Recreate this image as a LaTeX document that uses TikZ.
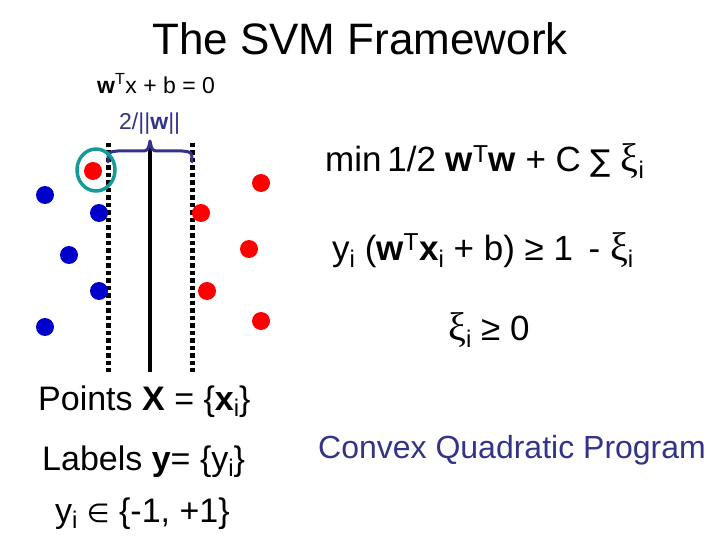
\documentclass[tikz,border=0pt]{standalone}
\usepackage{fontspec}
\setmainfont{Liberation Sans}
\newfontfamily\dvfont{DejaVu Sans}
\newfontfamily\grfont{Liberation Serif}
\definecolor{dotred}{HTML}{FF0000}
\definecolor{dotblue}{HTML}{0000CC}
\definecolor{tealring}{HTML}{169B9B}
\definecolor{navy}{HTML}{333388}
\newcommand\fs[1]{\fontsize{#1}{#1}\selectfont}
\newcommand\xii{{\grfont\fs{40}ξ}}
\newcommand\sbi{\raisebox{-0.2em}{\fs{24}i}}
\begin{document}
\begin{tikzpicture}[x=1pt,y=-1pt,
  reddot/.style={circle,fill=dotred,inner sep=0pt,minimum size=18pt},
  bluedot/.style={circle,fill=dotblue,inner sep=0pt,minimum size=18pt},
  margin/.style={line width=5pt,dash pattern=on 4.5pt off 3pt},
  txt/.style={inner sep=0pt,anchor=base west}]
\useasboundingbox (0,0) rectangle (720,540);
% title
\node[inner sep=0pt,anchor=base] (title) at (360,55) {\fs{44}The SVM Framework};
\node[txt] (hyp) at (97,94) {\fs{23}\textbf{w}\textsuperscript{T}x + b = 0};
\node[txt,text=navy] (marg) at (119,130) {\fs{23}2/||\textbf{w}||};
% lines
\coordinate (lt) at (108,143); \coordinate (lb) at (108,372);
\coordinate (rt) at (192,143); \coordinate (rb) at (192,372);
\coordinate (ct) at (150,143); \coordinate (cb) at (150,372);
\draw[margin] (lt) -- (lb);
\draw[margin] (rt) -- (rb);
\draw[line width=4pt] (ct) -- (cb);
% brace
\draw[navy,line width=3pt,line cap=round,line join=round]
  (108,162) .. controls (108,152) .. (118,151) -- (140,151)
  .. controls (148,151) .. (150,141)
  .. controls (152,151) .. (160,151) -- (182,151)
  .. controls (192,152) .. (192,162);
% dots
\node[reddot] (r0) at (93,171) {};
\draw[tealring,line width=3.5pt] (96,170) ellipse (19pt and 21pt);
\node[bluedot] (b1) at (45,195) {};
\node[bluedot] (b2) at (99,213) {};
\node[bluedot] (b3) at (69,255) {};
\node[bluedot] (b4) at (99,291) {};
\node[bluedot] (b5) at (45,327) {};
\node[reddot] (r1) at (261,183) {};
\node[reddot] (r2) at (201,213) {};
\node[reddot] (r3) at (249,249) {};
\node[reddot] (r4) at (207,291) {};
\node[reddot] (r5) at (261,321) {};
% right formulas
\node[txt] (obj) at (325,172) {\fs{35}min\,1/2 \textbf{w}\textsuperscript{T}\textbf{w} + C {\dvfont\fs{30}∑} \xii\sbi};
\node[txt] (con) at (332,260) {\fs{35}y\sbi{} (\textbf{w}\textsuperscript{T}\textbf{x}\sbi{} + b) ≥ 1 \,- \xii\sbi};
\node[txt] (pos) at (448,340) {\fs{35}\xii\sbi{} ≥ 0};
% bottom
\node[txt] (pts) at (38,410) {\fs{34}Points \textbf{X} = \{\textbf{x}\sbi\}};
\node[txt] (lab) at (42,470) {\fs{34}Labels \textbf{y}= \{y\sbi\}};
\node[txt] (dom) at (55,522) {\fs{34}y\sbi{} {\dvfont\fs{26}∈} \{-1, +1\}};
\node[txt,text=navy] (cqp) at (318,458) {\fs{32}Convex Quadratic Program};
\end{tikzpicture}
\end{document}
